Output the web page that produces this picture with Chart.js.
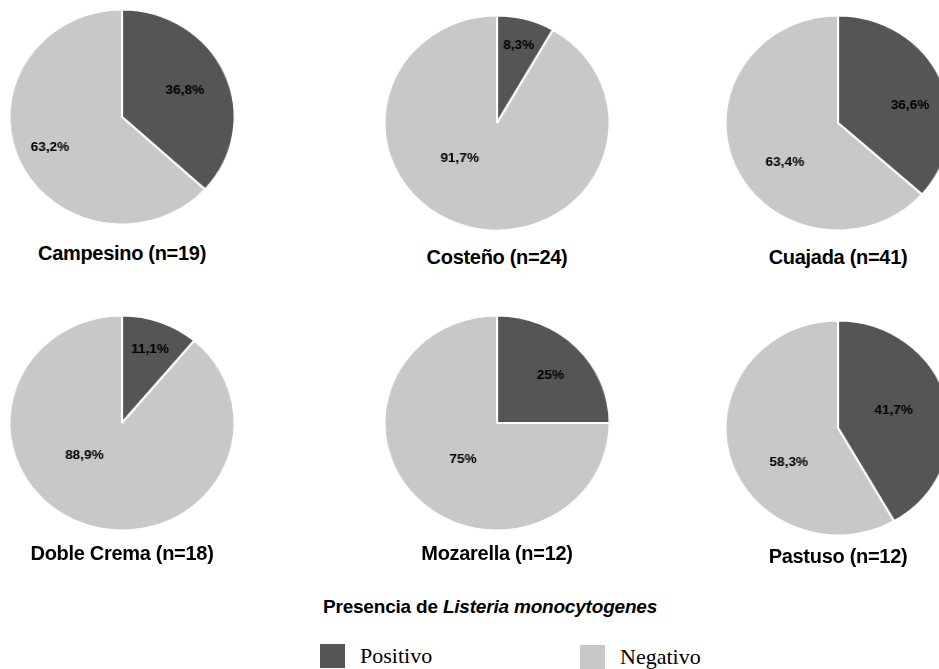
<!DOCTYPE html>
<html><head><meta charset="utf-8">
<script src="https://cdn.jsdelivr.net/npm/chart.js@4.4.0/dist/chart.umd.min.js"></script>
<style>
html,body{margin:0;padding:0;background:#fff;}
body{width:939px;height:669px;overflow:hidden;position:relative;font-family:"Liberation Sans",Arial,sans-serif;color:#000}
.pie{position:absolute;width:240px;height:240px;transform:scaleX(1.047);transform-origin:50% 50%}
.cap{position:absolute;font-weight:bold;font-size:20px;line-height:20px;white-space:nowrap;transform:translateX(-50%);letter-spacing:-0.3px}
.title{position:absolute;left:490px;top:597px;transform:translateX(-50%);font-weight:bold;font-size:19px;line-height:19px;white-space:nowrap;letter-spacing:-0.2px}
.leg{position:absolute;display:flex;align-items:center;font-family:"Liberation Serif","Times New Roman",serif;font-size:22px;white-space:nowrap}
.leg span.sw{display:inline-block;width:25px;height:24px;margin-right:15px}
</style></head><body>
<script>
// ---- data ----
const categories = ['Campesino', 'Costeño', 'Cuajada', 'Doble Crema', 'Mozarella', 'Pastuso'];
const sampleSizes = [19, 24, 41, 18, 12, 12];
const seriesLabels = ['Positivo', 'Negativo'];
const positivo = [36.8, 8.3, 36.6, 11.1, 25, 41.7];
const negativo = [63.2, 91.7, 63.4, 88.9, 75, 58.3];
const chartTitle = ['Presencia de ', 'Listeria monocytogenes'];

// ---- style / layout ----
const colors = ['#555555', '#c8c8c8'];
const pieCenters = [[122,117],[497,123],[838,123],[122,423],[497,423],[838,428]];
const captionTops = [243, 247, 247, 543, 543, 546];
// [angle nudge (deg), radius factor] for label of each slice
const labelPlacement = [
  [[0,0.61],[0,0.70]],
  [[0,0.75],[30,0.47]],
  [[10,0.66],[-14,0.60]],
  [[0,0.73],[28,0.45]],
  [[2,0.65],[-3,0.45]],
  [[-3,0.52],[-21,0.54]]
];

const fmt = v => String(v).replace('.', ',') + '%';

const pctLabels = {
  id: 'pctLabels',
  afterDatasetsDraw(chart, args, opts) {
    const ctx = chart.ctx;
    const meta = chart.getDatasetMeta(0);
    const ds = chart.data.datasets[0];
    meta.data.forEach((arc, i) => {
      const p = arc.getProps(['x','y','startAngle','endAngle','outerRadius'], true);
      const pl = opts.placement[i];
      const a = (p.startAngle + p.endAngle) / 2 + pl[0] * Math.PI / 180;
      const r = p.outerRadius * pl[1];
      ctx.save();
      ctx.font = 'bold 13px "Liberation Sans", Arial, sans-serif';
      ctx.fillStyle = '#000';
      ctx.textAlign = 'center';
      ctx.textBaseline = 'middle';
      ctx.fillText(fmt(ds.data[i]), p.x + Math.cos(a) * r, p.y + Math.sin(a) * r);
      ctx.restore();
    });
  }
};

categories.forEach((cat, k) => {
  const [cx, cy] = pieCenters[k];
  const div = document.createElement('div');
  div.className = 'pie';
  div.style.left = (cx - 120) + 'px';
  div.style.top = (cy - 120) + 'px';
  const cv = document.createElement('canvas');
  div.appendChild(cv);
  document.body.appendChild(div);
  new Chart(cv, {
    type: 'pie',
    data: {
      labels: seriesLabels,
      datasets: [{
        data: [positivo[k], negativo[k]],
        backgroundColor: colors,
        borderColor: '#ffffff',
        borderWidth: 2
      }]
    },
    options: {
      responsive: true,
      maintainAspectRatio: false,
      animation: false,
      radius: 107.5,
      layout: { padding: 0 },
      events: [],
      plugins: {
        legend: { display: false },
        tooltip: { enabled: false },
        pctLabels: { placement: labelPlacement[k] }
      }
    },
    plugins: [pctLabels]
  });

  const cap = document.createElement('div');
  cap.className = 'cap';
  cap.style.left = cx + 'px';
  cap.style.top = captionTops[k] + 'px';
  cap.textContent = cat + ' (n=' + sampleSizes[k] + ')';
  document.body.appendChild(cap);
});

const t = document.createElement('div');
t.className = 'title';
t.appendChild(document.createTextNode(chartTitle[0]));
const it = document.createElement('i');
it.textContent = chartTitle[1];
t.appendChild(it);
document.body.appendChild(t);

const legPos = [[320, 643], [580, 644]];
seriesLabels.forEach((lab, i) => {
  const d = document.createElement('div');
  d.className = 'leg';
  d.style.left = legPos[i][0] + 'px';
  d.style.top = legPos[i][1] + 'px';
  const sw = document.createElement('span');
  sw.className = 'sw';
  sw.style.background = colors[i];
  d.appendChild(sw);
  d.appendChild(document.createTextNode(lab));
  document.body.appendChild(d);
});
</script>
</body></html>
